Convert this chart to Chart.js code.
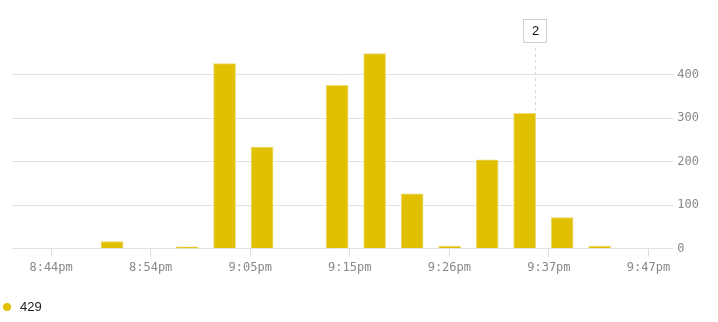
<!DOCTYPE html>
<html>
<head>
<meta charset="utf-8">
<script src="https://cdn.jsdelivr.net/npm/chart.js@4"></script>
<style>
  body { margin: 0; background: #fff; }
  #wrap { position: relative; width: 718px; height: 322px; }
  #legend { position: absolute; left: 3px; top: 299px; font: 13px "Liberation Sans", Arial, sans-serif; color: #222; display: flex; align-items: center; }
  #legend .dot { width: 8px; height: 8px; border-radius: 50%; background: #e0c000; margin-right: 9px; }
</style>
</head>
<body>
<div id="wrap">
  <canvas id="barChart" width="718" height="322"></canvas>
  <div id="legend"><span class="dot"></span><span id="legendText"></span></div>
</div>
<script>
// bin times (center of each 4 minute bucket) and counts
var binTimes = ['20:50:30', '20:58:30', '21:02:30', '21:06:30', '21:14:30', '21:18:30',
                '21:22:30', '21:26:30', '21:30:30', '21:34:30', '21:38:30', '21:42:30'];
var counts = [16, 4, 425, 233, 375, 448, 126, 6, 204, 311, 71, 6];
var seriesName = '429';

// x tick times, y ticks
var tickTimes = ['20:44:00', '20:54:37', '21:05:14', '21:15:51', '21:26:28', '21:37:05', '21:47:42'];
var yTicks = [0, 100, 200, 300, 400];

// hover marker
var markerTime = '21:35:35';
var markerLabel = '2';

var toMin = function (s) {
    var p = s.split(':').map(Number);
    return (p[0] - 20) * 60 + p[1] + (p[2] || 0) / 60;
};
var fmt = function (v) {
    var tot = Math.floor(v + 1e-6);
    var h = 20 + Math.floor(tot / 60);
    var m = tot % 60;
    var h12 = h > 12 ? h - 12 : h;
    return h12 + ':' + (m < 10 ? '0' + m : m) + (h >= 12 ? 'pm' : 'am');
};

var points = binTimes.map(function (t, i) { return { x: toMin(t), y: counts[i] }; });

var markerPlugin = {
    id: 'marker',
    beforeDatasetsDraw: function (chart) {
        var ctx = chart.ctx;
        var x = Math.round(chart.scales.x.getPixelForValue(toMin(markerTime))) + 0.5;
        ctx.save();
        ctx.strokeStyle = '#d8d8d8';
        ctx.lineWidth = 1;
        ctx.setLineDash([3, 3]);
        ctx.beginPath();
        ctx.moveTo(x, 48);
        ctx.lineTo(x, chart.chartArea.bottom);
        ctx.stroke();
        ctx.restore();
    },
    afterDraw: function (chart) {
        var ctx = chart.ctx;
        var x = Math.round(chart.scales.x.getPixelForValue(toMin(markerTime)));
        ctx.save();
        ctx.fillStyle = '#fff';
        ctx.strokeStyle = '#cfcfcf';
        ctx.lineWidth = 1;
        ctx.fillRect(x - 11.5, 19.5, 23, 23);
        ctx.strokeRect(x - 11.5, 19.5, 23, 23);
        ctx.fillStyle = '#111';
        ctx.font = '13px "Liberation Sans", Arial, sans-serif';
        ctx.textAlign = 'center';
        ctx.textBaseline = 'middle';
        ctx.fillText(markerLabel, x + 0.5, 31.5);
        ctx.restore();
    }
};

document.getElementById('legendText').textContent = seriesName;

var ctx = document.getElementById('barChart');
var myChart = new Chart(ctx, {
    type: 'bar',
    data: {
        datasets: [
            {
                label: seriesName,
                data: points,
                backgroundColor: '#e0c000',
                borderColor: '#eedc78',
                borderWidth: 1,
                barThickness: 22
            }
        ]
    },
    options: {
        responsive: false,
        animation: false,
        layout: { padding: { left: 12, top: 31, right: 15, bottom: 43 } },
        plugins: {
            legend: { display: false },
            tooltip: { enabled: false }
        },
        scales: {
            x: {
                type: 'linear',
                offset: false,
                min: 39.83,
                max: 109.5,
                afterBuildTicks: function (scale) {
                    scale.ticks = tickTimes.map(function (t) { return { value: toMin(t) }; });
                },
                grid: { offset: false, drawOnChartArea: false, drawTicks: true, tickLength: 8, color: '#dddddd' },
                border: { display: false },
                ticks: {
                    autoSkip: false,
                    maxRotation: 0,
                    padding: 4,
                    color: '#888',
                    font: { family: '"DejaVu Sans Mono", monospace', size: 12 },
                    callback: function (v) { return fmt(v); }
                }
            },
            y: {
                position: 'right',
                min: 0,
                max: 500,
                afterBuildTicks: function (scale) {
                    scale.ticks = yTicks.map(function (v) { return { value: v }; });
                },
                grid: { color: '#e2e2e2', tickLength: 8 },
                border: { display: false },
                ticks: {
                    padding: 4,
                    color: '#888',
                    font: { family: '"DejaVu Sans Mono", monospace', size: 12 }
                }
            }
        }
    },
    plugins: [markerPlugin]
});
</script>
</body>
</html>
